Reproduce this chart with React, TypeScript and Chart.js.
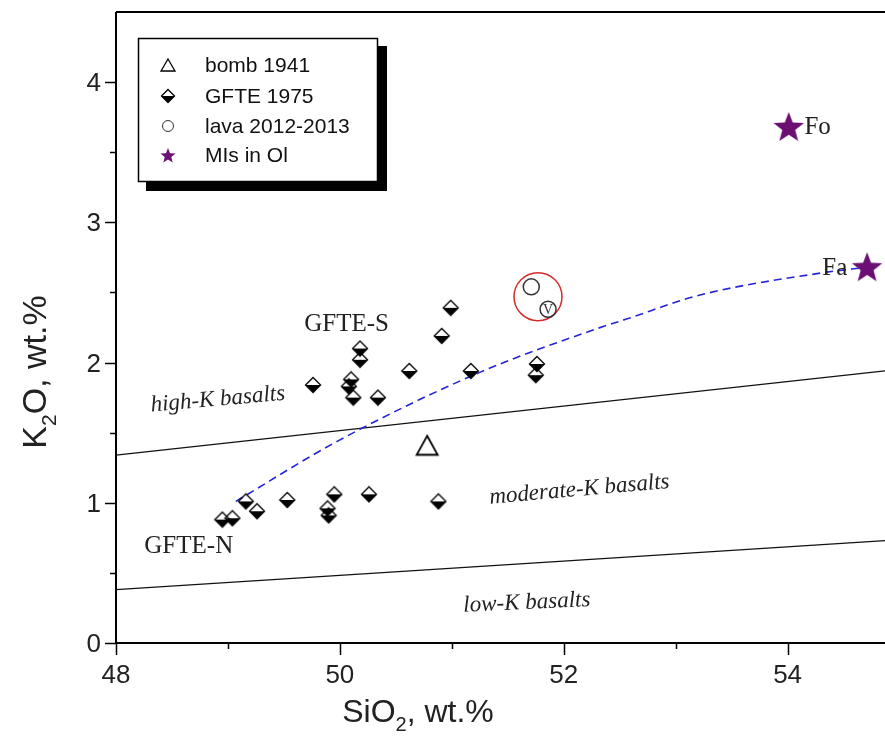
import React, { useEffect, useRef } from 'react';
import { Chart, registerables } from 'chart.js';

Chart.register(...registerables);

// ---- axis ranges & ticks ----
const X_MIN = 48;
const X_MAX = 54.87;
const Y_MIN = 0;
const Y_MAX = 4.5;
const xMajorTicks = [48, 50, 52, 54];
const xMinorTicks = [49, 51, 53];
const yMajorTicks = [0, 1, 2, 3, 4];
const yMinorTicks = [0.5, 1.5, 2.5, 3.5];

// ---- data ----
const bombX = [50.78];
const bombY = [1.41];

const gfteX = [49.76, 50.10, 50.08, 50.12, 50.34, 50.18, 50.18, 50.62, 50.91, 50.99, 51.17, 51.76, 51.75,
  48.95, 49.04, 49.16, 49.26, 49.53, 49.89, 49.90, 49.95, 50.26, 50.88];
const gfteY = [1.84, 1.88, 1.83, 1.75, 1.75, 2.10, 2.02, 1.94, 2.19, 2.39, 1.94, 1.99, 1.91,
  0.88, 0.89, 1.01, 0.94, 1.02, 0.96, 0.91, 1.06, 1.06, 1.01];

const lavaX = [51.71, 51.86];
const lavaY = [2.54, 2.38];
const lavaTags = ['', 'V'];

const mlsX = [54.01, 54.71];
const mlsY = [3.68, 2.68];

const highlightX = [51.77];
const highlightY = [2.47];

const highKX = [48, 54.87];
const highKY = [1.34, 1.94];
const lowKX = [48, 54.87];
const lowKY = [0.38, 0.73];

const trendX = [49.07, 49.98, 51.25, 52.29, 52.56, 53.21, 54.31, 54.71];
const trendY = [1.01, 1.44, 1.93, 2.24, 2.31, 2.48, 2.64, 2.68];

// ---- text annotations (data coords) ----
const annText = ['GFTE-S', 'GFTE-N', 'high-K basalts', 'moderate-K basalts', 'low-K basalts', 'Fo', 'Fa'];
const annX = [50.06, 48.65, 48.91, 52.14, 51.67, 54.15, 54.31];
const annY = [2.27, 0.686, 1.736, 1.093, 0.286, 3.68, 2.67];
const annItalic = [false, false, true, true, true, false, false];
const annAlign = ['center', 'center', 'center', 'center', 'center', 'left', 'left'];
const annAngle = [0, 0, -5, -5, -2.5, 0, 0];

const legendLabels = ['bomb 1941', 'GFTE 1975', 'lava 2012-2013', 'MIs in Ol'];

const PURPLE = '#6b0f73';

const pts = (xs: number[], ys: number[]) => xs.map((x, i) => ({ x, y: ys[i] }));

function starPath(ctx: CanvasRenderingContext2D, cx: number, cy: number, ro: number, ri: number) {
  ctx.beginPath();
  for (let i = 0; i < 10; i++) {
    const r = i % 2 === 0 ? ro : ri;
    const a = -Math.PI / 2 + (i * Math.PI) / 5;
    const px = cx + r * Math.cos(a);
    const py = cy + r * Math.sin(a);
    if (i === 0) ctx.moveTo(px, py);
    else ctx.lineTo(px, py);
  }
  ctx.closePath();
}

function drawDiamond(ctx: CanvasRenderingContext2D, cx: number, cy: number, h: number) {
  ctx.save();
  ctx.beginPath();
  ctx.moveTo(cx - h, cy);
  ctx.lineTo(cx + h, cy);
  ctx.lineTo(cx, cy + h);
  ctx.closePath();
  ctx.fillStyle = '#000';
  ctx.fill();
  ctx.beginPath();
  ctx.moveTo(cx, cy - h);
  ctx.lineTo(cx + h, cy);
  ctx.lineTo(cx, cy + h);
  ctx.lineTo(cx - h, cy);
  ctx.closePath();
  ctx.strokeStyle = '#000';
  ctx.lineWidth = 1.3;
  ctx.stroke();
  ctx.restore();
}

function drawTriangle(ctx: CanvasRenderingContext2D, cx: number, cy: number, w: number, h: number, lw: number) {
  ctx.save();
  ctx.beginPath();
  ctx.moveTo(cx, cy - h / 2);
  ctx.lineTo(cx + w / 2, cy + h / 2);
  ctx.lineTo(cx - w / 2, cy + h / 2);
  ctx.closePath();
  ctx.fillStyle = '#fff';
  ctx.fill();
  ctx.strokeStyle = '#000';
  ctx.lineWidth = lw;
  ctx.stroke();
  ctx.restore();
}

function makeCanvas(w: number, h: number, fn: (c: CanvasRenderingContext2D) => void) {
  const c = document.createElement('canvas');
  c.width = w;
  c.height = h;
  const ctx = c.getContext('2d')!;
  fn(ctx);
  return c;
}

function drawSubText(ctx: CanvasRenderingContext2D, pre: string, sub: string, post: string, size: number, cx: number, baseline: number) {
  const main = `${size}px "Liberation Sans", Arial, sans-serif`;
  const small = `${Math.round(size * 0.62)}px "Liberation Sans", Arial, sans-serif`;
  ctx.font = main;
  const w1 = ctx.measureText(pre).width;
  const w3 = ctx.measureText(post).width;
  ctx.font = small;
  const w2 = ctx.measureText(sub).width;
  const total = w1 + w2 + w3;
  let x = cx - total / 2;
  ctx.textAlign = 'left';
  ctx.textBaseline = 'alphabetic';
  ctx.font = main;
  ctx.fillText(pre, x, baseline);
  x += w1;
  ctx.font = small;
  ctx.fillText(sub, x, baseline + size * 0.28);
  x += w2;
  ctx.font = main;
  ctx.fillText(post, x, baseline);
}

const framePlugin = {
  id: 'frame',
  beforeDatasetsDraw(chart: any) {
    const { ctx, chartArea } = chart;
    const xs = chart.scales.x;
    const ys = chart.scales.y;
    const { left, right, top, bottom } = chartArea;
    ctx.save();
    ctx.strokeStyle = '#000';
    ctx.lineWidth = 2;
    ctx.beginPath();
    ctx.moveTo(left, top);
    ctx.lineTo(left, bottom);
    ctx.lineTo(right, bottom);
    ctx.moveTo(left, top);
    ctx.lineTo(right, top);
    ctx.stroke();
    // ticks
    ctx.lineWidth = 1.5;
    ctx.beginPath();
    xMajorTicks.forEach((v) => {
      const p = Math.round(xs.getPixelForValue(v)) + 0.5;
      ctx.moveTo(p, bottom);
      ctx.lineTo(p, bottom + 12);
    });
    xMinorTicks.forEach((v) => {
      const p = Math.round(xs.getPixelForValue(v)) + 0.5;
      ctx.moveTo(p, bottom);
      ctx.lineTo(p, bottom + 6);
    });
    yMajorTicks.forEach((v) => {
      const p = Math.round(ys.getPixelForValue(v)) + 0.5;
      ctx.moveTo(left, p);
      ctx.lineTo(left - 11, p);
    });
    yMinorTicks.forEach((v) => {
      const p = Math.round(ys.getPixelForValue(v)) + 0.5;
      ctx.moveTo(left, p);
      ctx.lineTo(left - 6, p);
    });
    ctx.stroke();
    // tick labels
    ctx.fillStyle = '#222';
    ctx.font = '26px "Liberation Sans", Arial, sans-serif';
    ctx.textAlign = 'center';
    ctx.textBaseline = 'alphabetic';
    xMajorTicks.forEach((v) => {
      ctx.fillText(String(v), xs.getPixelForValue(v), bottom + 40);
    });
    ctx.textAlign = 'right';
    yMajorTicks.forEach((v) => {
      ctx.fillText(String(v), left - 15, ys.getPixelForValue(v) + 9);
    });
    // axis titles
    ctx.fillStyle = '#222';
    drawSubText(ctx, 'SiO', '2', ', wt.%', 32, 418, 722);
    ctx.save();
    ctx.translate(46, 372);
    ctx.rotate(-Math.PI / 2);
    drawSubText(ctx, 'K', '2', 'O, wt.%', 34, 0, 0);
    ctx.restore();
    ctx.restore();
  },
  afterDatasetsDraw(chart: any) {
    const { ctx } = chart;
    const xs = chart.scales.x;
    const ys = chart.scales.y;
    ctx.save();
    ctx.fillStyle = '#222';
    annText.forEach((t, i) => {
      const px = xs.getPixelForValue(annX[i]);
      const py = ys.getPixelForValue(annY[i]);
      ctx.save();
      ctx.translate(px, py);
      ctx.rotate((annAngle[i] * Math.PI) / 180);
      ctx.font = annItalic[i]
        ? 'italic 23px "Liberation Serif", "Times New Roman", serif'
        : '25px "Liberation Serif", "Times New Roman", serif';
      ctx.textAlign = annAlign[i] as CanvasTextAlign;
      ctx.textBaseline = 'middle';
      ctx.fillText(t, 0, 0);
      ctx.restore();
    });
    // tags inside lava circles
    ctx.font = '14px "Liberation Serif", serif';
    ctx.textAlign = 'center';
    ctx.textBaseline = 'middle';
    ctx.fillStyle = '#333';
    lavaTags.forEach((t, i) => {
      if (!t) return;
      ctx.fillText(t, xs.getPixelForValue(lavaX[i]), ys.getPixelForValue(lavaY[i]) + 1);
    });
    ctx.restore();
  },
  afterDraw(chart: any) {
    const { ctx } = chart;
    ctx.save();
    // shadow
    ctx.fillStyle = '#000';
    ctx.fillRect(146, 46, 241, 145);
    ctx.fillStyle = '#fff';
    ctx.fillRect(138, 38, 240, 144);
    ctx.strokeStyle = '#000';
    ctx.lineWidth = 1.5;
    ctx.strokeRect(138.5, 38.5, 239, 143);
    const mx = 168;
    const rows = [65, 96, 126, 155];
    drawTriangle(ctx, mx, rows[0], 14, 12, 1.3);
    drawDiamond(ctx, mx, rows[1], 6.5);
    ctx.beginPath();
    ctx.arc(mx, rows[2], 5.5, 0, Math.PI * 2);
    ctx.strokeStyle = '#333';
    ctx.lineWidth = 1;
    ctx.stroke();
    starPath(ctx, mx, rows[3] + 1, 8, 3.4);
    ctx.fillStyle = PURPLE;
    ctx.fill();
    ctx.fillStyle = '#111';
    ctx.font = '21px "Liberation Sans", Arial, sans-serif';
    ctx.textAlign = 'left';
    ctx.textBaseline = 'middle';
    legendLabels.forEach((t, i) => ctx.fillText(t, 205, rows[i] + 1));
    ctx.restore();
  },
};

export default function App() {
  const ref = useRef<HTMLCanvasElement | null>(null);
  useEffect(() => {
    if (!ref.current) return;
    const diamondImg = makeCanvas(18, 18, (c) => drawDiamond(c, 9, 9, 7.5));
    const triImg = makeCanvas(26, 24, (c) => drawTriangle(c, 13, 12, 21, 19, 1.8));
    const starImg = makeCanvas(34, 34, (c) => {
      starPath(c, 17, 18, 16, 6.8);
      c.fillStyle = PURPLE;
      c.fill();
    });
    const chart = new Chart(ref.current, {
      type: 'scatter',
      data: {
        datasets: [
          {
            label: 'MIs in Ol',
            data: pts(mlsX, mlsY),
            pointStyle: starImg as any,
            pointRadius: 16,
            order: 0,
          },
          {
            label: 'lava 2012-2013',
            data: pts(lavaX, lavaY),
            pointStyle: 'circle',
            pointRadius: 8,
            pointBackgroundColor: 'rgba(255,255,255,0)',
            pointBorderColor: '#333',
            pointBorderWidth: 1.5,
            order: 1,
          },
          {
            label: 'highlight',
            data: pts(highlightX, highlightY),
            pointStyle: 'circle',
            pointRadius: 24,
            pointBackgroundColor: 'rgba(255,255,255,0)',
            pointBorderColor: '#d42c2c',
            pointBorderWidth: 1.5,
            order: 2,
          },
          {
            label: 'GFTE 1975',
            data: pts(gfteX, gfteY),
            pointStyle: diamondImg as any,
            pointRadius: 8,
            order: 3,
          },
          {
            label: 'bomb 1941',
            data: pts(bombX, bombY),
            pointStyle: triImg as any,
            pointRadius: 11,
            order: 4,
          },
          {
            label: 'trend',
            data: pts(trendX, trendY),
            showLine: true,
            borderColor: '#2424d8',
            borderWidth: 1.6,
            borderDash: [8, 5],
            pointRadius: 0,
            cubicInterpolationMode: 'monotone',
            order: 10,
          } as any,
          {
            label: 'high-K boundary',
            data: pts(highKX, highKY),
            showLine: true,
            borderColor: '#111',
            borderWidth: 1.2,
            pointRadius: 0,
            order: 11,
          },
          {
            label: 'low-K boundary',
            data: pts(lowKX, lowKY),
            showLine: true,
            borderColor: '#111',
            borderWidth: 1.2,
            pointRadius: 0,
            order: 12,
          },
        ],
      },
      options: {
        responsive: false,
        devicePixelRatio: 1,
        animation: false,
        events: [],
        layout: { autoPadding: false, padding: { left: 116, top: 12, right: 0, bottom: 106 } },
        scales: {
          x: { type: 'linear', min: X_MIN, max: X_MAX, display: false },
          y: { type: 'linear', min: Y_MIN, max: Y_MAX, display: false },
        },
        plugins: {
          legend: { display: false },
          tooltip: { enabled: false },
        },
      },
      plugins: [framePlugin],
    });
    return () => chart.destroy();
  }, []);
  return (
    <div style={{ position: 'fixed', left: 0, top: 0, width: 885, height: 749, background: '#fff' }}>
      <canvas ref={ref} width={885} height={749} style={{ display: 'block' }} />
    </div>
  );
}
